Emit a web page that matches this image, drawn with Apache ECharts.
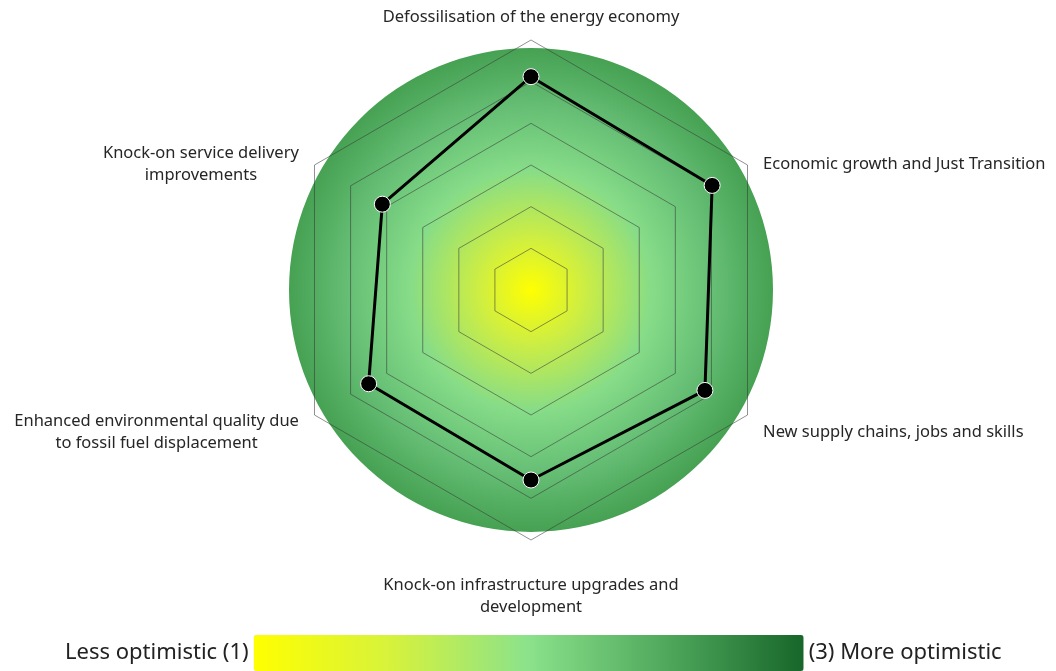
<!DOCTYPE html>
<html>
<head>
<meta charset="utf-8">
<script src="https://cdn.jsdelivr.net/npm/echarts@6/dist/echarts.min.js"></script>
<style>
  html, body { margin: 0; padding: 0; background: #fff; }
  #main { width: 1056px; height: 671px; }
</style>
</head>
<body>
<div id="main"></div>
<script>
// axis names, in echarts order (counter-clockwise from the top)
var indicators = [
    'Defossilisation of the energy economy',
    'Knock-on service delivery\nimprovements',
    'Enhanced environmental quality due\nto fossil fuel displacement',
    'Knock-on infrastructure upgrades and\ndevelopment',
    'New supply chains, jobs and skills',
    'Economic growth and Just Transition'
];
var scores = [2.56, 2.06, 2.25, 2.28, 2.41, 2.51];
var scaleMin = 0;
var scaleMax = 3;
var legendText = ['(3) More optimistic', 'Less optimistic (1)'];
var legendColors = ['#ffff00', '#d6f23c', '#8be28b', '#4fa85c', '#17662a'];

var myChart = echarts.init(document.getElementById('main'));

var bgGradient = new echarts.graphic.RadialGradient(0.5, 0.5, 0.5, [
    { offset: 0, color: '#ffff00' },
    { offset: 0.2, color: '#d2ef3e' },
    { offset: 0.5, color: '#86dc88' },
    { offset: 0.75, color: '#66bf75' },
    { offset: 1, color: '#46a153' }
]);

var center = [531, 290];
var fontFamily = '"Noto Sans", sans-serif';

var option = {
    backgroundColor: '#ffffff',
    radar: [{
        // circular background
        z: 0,
        center: center,
        radius: 242,
        startAngle: 90,
        splitNumber: 1,
        shape: 'circle',
        indicator: indicators.map(function (n) {
            return { name: n, min: 0, max: 1 };
        }),
        axisName: { show: false },
        axisLine: { show: false },
        axisTick: { show: false },
        axisLabel: { show: false },
        splitLine: { show: false },
        splitArea: {
            show: true,
            areaStyle: { color: [bgGradient] }
        }
    }, {
        z: 2,
        center: center,
        radius: 250,
        startAngle: 90,
        splitNumber: 6,
        shape: 'polygon',
        indicator: indicators.map(function (n) {
            return { name: n, min: scaleMin, max: scaleMax };
        }),
        nameGap: 18,
        axisName: {
            color: '#262626',
            fontFamily: fontFamily,
            fontSize: 16.5,
            lineHeight: 22,
            padding: [16, 0, 0, 0],
            formatter: function (name) {
                // top label sits a bit closer to the grid
                if (name === indicators[0]) return '{t|' + name + '}';
                return '{c|' + name + '}';
            },
            rich: {
                c: {
                    align: 'center',
                    color: '#262626',
                    fontFamily: fontFamily,
                    fontSize: 16.5,
                    lineHeight: 22
                },
                t: {
                    align: 'center',
                    color: '#262626',
                    fontFamily: fontFamily,
                    fontSize: 16.5,
                    lineHeight: 10
                }
            }
        },
        axisLine: { show: false },
        axisTick: { show: false },
        axisLabel: { show: false },
        splitArea: { show: false },
        splitLine: {
            lineStyle: { color: 'rgba(55,55,55,0.55)', width: 1 }
        }
    }],
    visualMap: {
        type: 'continuous',
        seriesIndex: [],
        min: 1,
        max: 3,
        orient: 'horizontal',
        left: 50,
        top: 620,
        itemWidth: 36,
        itemHeight: 550,
        calculable: false,
        text: legendText,
        textGap: 5,
        textStyle: { color: '#222', fontSize: 22, fontFamily: fontFamily },
        inRange: { color: legendColors }
    },
    series: [{
        type: 'radar',
        radarIndex: 1,
        z: 3,
        symbol: 'circle',
        symbolSize: 16,
        lineStyle: { color: '#000', width: 3 },
        itemStyle: { color: '#000', borderColor: '#ffffff', borderWidth: 1 },
        data: [{ value: scores, name: 'Score' }]
    }]
};

myChart.setOption(option);
</script>
</body>
</html>
